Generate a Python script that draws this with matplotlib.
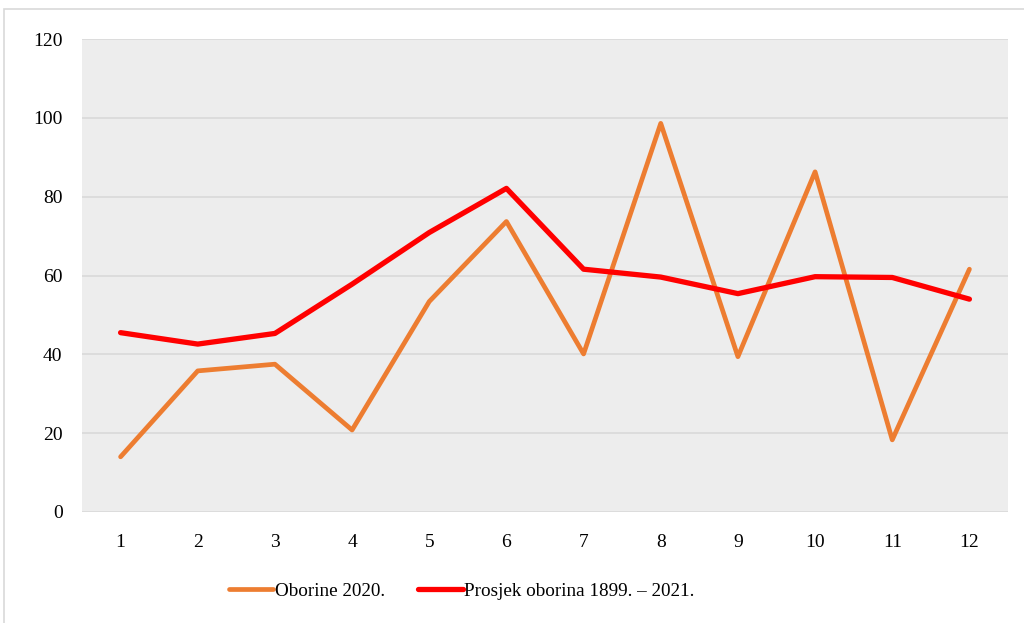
import matplotlib.pyplot as plt
from matplotlib.patches import Rectangle

plt.rcParams['font.family'] = ['Liberation Serif', 'DejaVu Serif']

months = [1, 2, 3, 4, 5, 6, 7, 8, 9, 10, 11, 12]
oborine_2020 = [14.0, 35.8, 37.5, 20.8, 53.4, 73.7, 40.1, 98.6, 39.4, 86.3, 18.3, 61.6]
prosjek = [45.5, 42.6, 45.3, 57.8, 70.9, 82.1, 61.6, 59.6, 55.4, 59.7, 59.5, 54.0]

fig = plt.figure(figsize=(10.24, 6.23), dpi=100)
ax = fig.add_axes([82 / 1024, 1 - 512 / 623, 926 / 1024, 473 / 623])

# okvir oko cijelog grafikona
fig.patches.append(Rectangle((4 / 1024, -0.01), 1.1, 1 - 9 / 623 + 0.01,
                             transform=fig.transFigure, fill=False,
                             edgecolor='#d9d9d9', linewidth=1.2))

ax.set_facecolor('#ededed')
ax.plot(months, oborine_2020, color='#ed7d31', linewidth=3.4,
        solid_capstyle='round', solid_joinstyle='round', label='Oborine 2020.')
ax.plot(months, prosjek, color='#ff0000', linewidth=3.8,
        solid_capstyle='round', solid_joinstyle='round',
        label='Prosjek oborina 1899. – 2021.')

ax.set_xlim(0.5, 12.5)
ax.set_ylim(0, 120)
ax.set_yticks(range(0, 121, 20))
ax.set_xticks(months)
ax.grid(axis='y', color='#d9d9d9', linewidth=1.2)
ax.set_axisbelow(True)
for s in ax.spines.values():
    s.set_visible(False)
ax.tick_params(length=0, labelsize=14, colors='black')
ax.tick_params(axis='y', pad=14)
ax.tick_params(axis='x', pad=15.5)

leg = fig.legend(loc='center', bbox_to_anchor=(0.451, 1 - 591 / 623), ncol=2,
                 frameon=False, fontsize=13.8, handlelength=2.3,
                 handletextpad=0.1, columnspacing=1.75)
for h in leg.get_lines():
    h.set_solid_capstyle('round')

fig.savefig('out.png', dpi=100)
